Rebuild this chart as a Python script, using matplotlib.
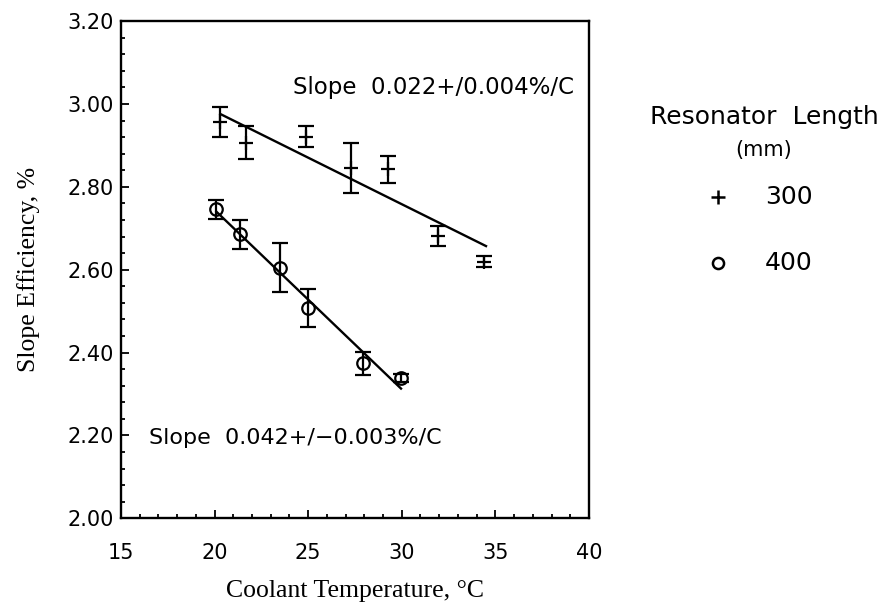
import matplotlib
matplotlib.use("Agg")
import matplotlib.pyplot as plt
from matplotlib.lines import Line2D
from matplotlib.ticker import MultipleLocator

# Data: Resonator length 300 mm
temp_300 = [20.3, 21.7, 24.9, 27.3, 29.25, 31.95, 34.4]
eff_300 = [2.956, 2.906, 2.921, 2.846, 2.842, 2.681, 2.619]
err_300 = [0.036, 0.040, 0.025, 0.060, 0.033, 0.025, 0.013]
fit_300_x = [20.3, 34.5]
fit_300_y = [2.976, 2.657]

# Data: Resonator length 400 mm
temp_400 = [20.06, 21.36, 23.5, 24.97, 27.95, 29.96]
eff_400 = [2.746, 2.685, 2.605, 2.508, 2.374, 2.339]
err_400 = [0.023, 0.035, 0.060, 0.046, 0.028, 0.010]
fit_400_x = [20.1, 29.96]
fit_400_y = [2.740, 2.313]

xticks = [15, 20, 25, 30, 35, 40]
yticks = [2.00, 2.20, 2.40, 2.60, 2.80, 3.00, 3.20]

sans = "DejaVu Sans"
serif = "Liberation Serif"

fig = plt.figure(figsize=(8.83, 6.04), dpi=100)
ax = fig.add_axes([0.137, 0.142, 0.53, 0.823])

ax.errorbar(temp_300, eff_300, yerr=err_300, fmt='+', color='black', ms=10, mew=1.6,
            ecolor='black', elinewidth=1.6, capsize=6, capthick=1.6)
ax.plot(fit_300_x, fit_300_y, color='black', lw=1.7)

ax.errorbar(temp_400, eff_400, yerr=err_400, fmt='o', color='black', mfc='none', ms=9, mew=1.6,
            ecolor='black', elinewidth=1.6, capsize=6, capthick=1.6)
ax.plot(fit_400_x, fit_400_y, color='black', lw=1.7)

ax.set_xlim(15, 40)
ax.set_ylim(2.0, 3.2)
ax.set_xticks(xticks)
ax.set_yticks(yticks)
ax.set_xticklabels([str(v) for v in xticks], family=sans, fontsize=15)
ax.set_yticklabels([f"{v:.2f}" for v in yticks], family=sans, fontsize=15)
ax.xaxis.set_minor_locator(MultipleLocator(1))
ax.yaxis.set_minor_locator(MultipleLocator(0.04))
ax.tick_params(which='both', direction='in', top=False, right=False, width=1.3)
ax.tick_params(which='major', length=6)
ax.tick_params(which='minor', length=3)
ax.tick_params(axis='x', which='major', pad=18)
ax.tick_params(axis='y', which='major', pad=5)
for s in ax.spines.values():
    s.set_linewidth(1.7)

ax.set_xlabel("Coolant Temperature, °C", family=serif, fontsize=18.5, labelpad=12)
ax.set_ylabel("Slope Efficiency, %", family=serif, fontsize=18.5, labelpad=20)

ax.text(24.2, 3.04, "Slope  0.022+/0.004%/C", family=sans, fontsize=16.5, va='center')
ax.text(16.5, 2.193, "Slope  0.042+/\u22120.003%/C", family=sans, fontsize=16, va='center')

# Legend outside the axes
fig.text(764/883, 1-117/604, "Resonator  Length", family=sans, fontsize=18, ha='center', va='center')
fig.text(764/883, 1-150/604, "(mm)", family=sans, fontsize=15, ha='center', va='center')
fig.lines.append(Line2D([718/883], [1-197/604], marker='+', ms=10, mew=1.8,
                        color='black', transform=fig.transFigure))
fig.lines.append(Line2D([718/883], [1-263/604], marker='o', ms=8, mew=1.8,
                        mfc='none', color='black', transform=fig.transFigure))
fig.text(765/883, 1-197/604, "300", family=sans, fontsize=18, ha='left', va='center')
fig.text(765/883, 1-263/604, "400", family=sans, fontsize=18, ha='left', va='center')

fig.savefig("out.png", dpi=100)
